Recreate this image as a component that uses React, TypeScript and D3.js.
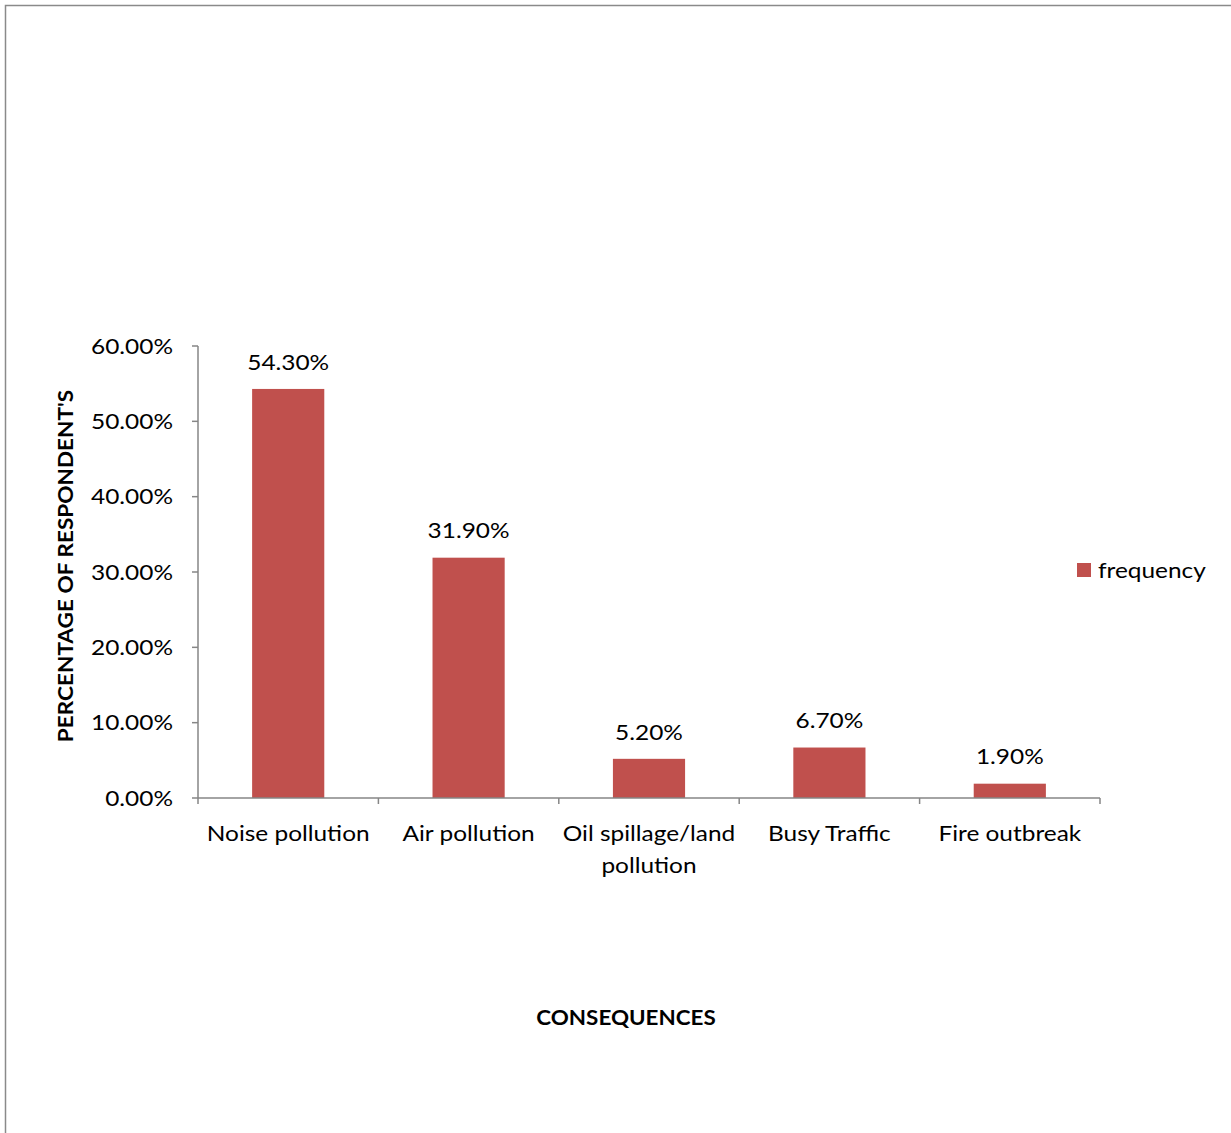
import React from "react";
import * as d3 from "d3";

const categories = ["Noise pollution", "Air pollution", "Oil spillage/land pollution", "Busy Traffic", "Fire outbreak"];
const frequency = [54.3, 31.9, 5.2, 6.7, 1.9];
const yTicks = [0, 10, 20, 30, 40, 50, 60];
const seriesName = "frequency";
const xTitle = "CONSEQUENCES";
const yTitle = "PERCENTAGE OF RESPONDENT'S";

const W = 1231;
const H = 1133;
const plot = { left: 198, right: 1100, top: 346, bottom: 798 };
const FONT = "Lato, 'Open Sans', sans-serif";
const BAR = "#C0504D";
const AXIS = "#868686";
const SX = 1.11; // horizontal stretch of the lettering

// Split long category names onto two lines the way the axis wraps them
function wrap(label: string): string[] {
  if (label === "Oil spillage/land pollution") return ["Oil spillage/land", "pollution"];
  return [label];
}

type LabelProps = {
  x: number;
  y: number;
  anchor?: "start" | "middle" | "end";
  size?: number;
  bold?: boolean;
  rotate?: number;
  sx?: number;
  children: React.ReactNode;
};

function Label({ x, y, anchor = "middle", size = 22, bold = false, rotate = 0, sx = SX, children }: LabelProps) {
  return (
    <text
      transform={`translate(${x},${y}) rotate(${rotate}) scale(${sx},1)`}
      dy="0.35em"
      textAnchor={anchor}
      fontSize={size}
      fontWeight={bold ? "bold" : "normal"}
      fill="#000"
    >
      {children}
    </text>
  );
}

export default function App() {
  const x = d3.scaleBand<string>().domain(categories).range([plot.left, plot.right]).paddingInner(0).paddingOuter(0);
  const y = d3.scaleLinear().domain([0, 60]).range([plot.bottom, plot.top]);
  const bw = x.bandwidth() * 0.4;
  const bounds = d3.range(categories.length + 1).map((i) => plot.left + i * x.bandwidth());
  const pct = (v: number) => d3.format(".2f")(v) + "%";

  return (
    <div style={{ position: "absolute", left: 0, top: 0 }}>
      <svg width={W} height={H} style={{ display: "block", fontFamily: FONT }}>
        <rect x={0} y={0} width={W} height={H} fill="#fff" />
        {/* chart area frame */}
        <rect x={5.5} y={5.5} width={W + 20} height={H + 20} fill="none" stroke="#8a8a8a" strokeWidth={1.5} />

        {/* y axis */}
        <line x1={plot.left} x2={plot.left} y1={plot.top} y2={plot.bottom} stroke={AXIS} strokeWidth={1.5} />
        {yTicks.map((t) => (
          <g key={t}>
            <line x1={plot.left - 6} x2={plot.left} y1={y(t)} y2={y(t)} stroke={AXIS} strokeWidth={1.5} />
            <Label x={173} y={y(t)} anchor="end">
              {pct(t)}
            </Label>
          </g>
        ))}

        {/* bars */}
        {categories.map((c, i) => {
          const cx = (x(c) as number) + x.bandwidth() / 2;
          return (
            <g key={c}>
              <rect x={cx - bw / 2} y={y(frequency[i])} width={bw} height={plot.bottom - y(frequency[i])} fill={BAR} />
              <Label x={cx} y={y(frequency[i]) - 27}>
                {pct(frequency[i])}
              </Label>
            </g>
          );
        })}

        {/* x axis */}
        <line x1={plot.left} x2={plot.right} y1={plot.bottom} y2={plot.bottom} stroke={AXIS} strokeWidth={1.5} />
        {bounds.map((b, i) => (
          <line key={i} x1={b} x2={b} y1={plot.bottom} y2={plot.bottom + 6} stroke={AXIS} strokeWidth={1.5} />
        ))}
        {categories.map((c) => {
          const cx = (x(c) as number) + x.bandwidth() / 2;
          return wrap(c).map((line, j) => (
            <Label key={c + j} x={cx} y={833 + j * 32}>
              {line}
            </Label>
          ));
        })}

        {/* axis titles */}
        <Label x={626} y={1018} size={20} bold sx={1.12}>
          {xTitle}
        </Label>
        <Label x={66} y={566} size={20} bold rotate={-90} sx={1.13}>
          {yTitle}
        </Label>

        {/* legend */}
        <rect x={1077} y={563} width={14} height={14} fill={BAR} />
        <Label x={1098} y={570} anchor="start">
          {seriesName}
        </Label>
      </svg>
    </div>
  );
}
